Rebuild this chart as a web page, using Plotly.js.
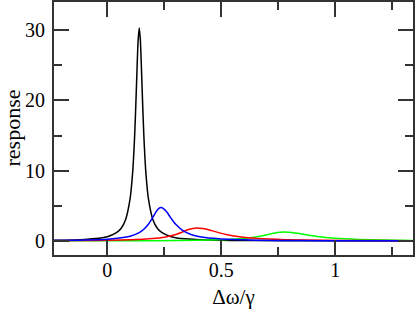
<!DOCTYPE html>
<html>
<head>
<meta charset="utf-8">
<script src="https://cdn.plot.ly/plotly-3.0.1.min.js"></script>
<style>html,body{margin:0;padding:0;background:#fff;}#chart{width:415px;height:309px;}</style>
</head>
<body>
<div id="chart"></div>
<script>
// Black curve
const blackX = [-0.234, -0.1, 0, 0.04, 0.06, 0.08, 0.1, 0.11, 0.115, 0.12, 0.125, 0.13, 0.135, 0.14, 0.145, 0.15, 0.155, 0.16, 0.165, 0.17, 0.18, 0.2, 0.22, 0.24, 0.28, 0.34, 0.44, 0.64, 0.94, 1.34];
const blackY = [0.09, 0.21, 0.61, 1.17, 1.78, 3.03, 6.06, 9.3, 11.8, 15.1, 19.4, 24.2, 28.5, 30.3, 28.5, 24.2, 19.4, 15.1, 11.8, 9.3, 6.06, 3.03, 1.78, 1.17, 0.61, 0.30, 0.134, 0.048, 0.019, 0.008];
// Blue curve
const blueX = [-0.234, -0.1, 0, 0.1, 0.14, 0.16, 0.18, 0.2, 0.215, 0.225, 0.235, 0.245, 0.26, 0.28, 0.3, 0.33, 0.37, 0.43, 0.5, 0.65, 0.85, 1.05, 1.34];
const blueY = [0.064, 0.125, 0.247, 0.676, 1.19, 1.66, 2.37, 3.38, 4.2, 4.6, 4.75, 4.64, 4.14, 3.21, 2.37, 1.51, 0.89, 0.475, 0.27, 0.114, 0.052, 0.030, 0.016];
// Red curve
const redX = [-0.234, -0.1, 0, 0.1, 0.2, 0.25, 0.3, 0.33, 0.36, 0.39, 0.42, 0.46, 0.52, 0.58, 0.66, 0.78, 0.95, 1.15, 1.34];
const redY = [0.038, 0.060, 0.093, 0.162, 0.339, 0.541, 0.925, 1.28, 1.665, 1.85, 1.757, 1.434, 0.925, 0.589, 0.348, 0.185, 0.094, 0.053, 0.034];
// Green curve
const greenX = [-0.234, 0, 0.2, 0.4, 0.5, 0.58, 0.63, 0.67, 0.71, 0.745, 0.775, 0.81, 0.86, 0.92, 1.0, 1.1, 1.22, 1.34];
const greenY = [0.015, 0.026, 0.045, 0.101, 0.177, 0.309, 0.467, 0.670, 0.949, 1.19, 1.28, 1.21, 0.952, 0.64, 0.375, 0.213, 0.123, 0.079];

const xTitle = 'Δω/γ';
const yTitle = 'response';

function tr(x, y, c) {
  return {x: x, y: y, type: 'scatter', mode: 'lines',
    line: {color: c, width: 1.5, shape: 'spline', smoothing: 0.6},
    hoverinfo: 'skip', showlegend: false};
}
const data = [
  tr(blackX, blackY, '#000000'),
  tr(greenX, greenY, '#00ff00'),
  tr(redX, redY, '#ff0000'),
  tr(blueX, blueY, '#0000ff')
];
const fontF = 'Liberation Serif, Times New Roman, serif';
const axisCommon = {
  showline: true, linecolor: '#333333', linewidth: 2, mirror: 'ticks',
  ticks: 'inside', ticklen: 15, tickwidth: 2, tickcolor: '#333333',
  showgrid: false, zeroline: false,
  tickfont: {family: fontF, size: 20, color: '#000'}
};
const layout = {
  width: 415, height: 309,
  margin: {l: 54, r: 2, t: 2, b: 54},
  paper_bgcolor: '#fff', plot_bgcolor: '#fff',
  font: {family: fontF, size: 20, color: '#000'},
  xaxis: Object.assign({}, axisCommon, {
    range: [-0.234, 1.341], tick0: 0, dtick: 0.5,
    minor: {dtick: 0.25, ticks: 'inside', ticklen: 8, tickwidth: 2, tickcolor: '#333333', showgrid: false},
    ticklabelstandoff: -4,
    title: {text: xTitle, font: {family: fontF, size: 21, color: '#000'}, standoff: 13}
  }),
  yaxis: Object.assign({}, axisCommon, {
    range: [-2, 34], tick0: 0, dtick: 10,
    minor: {dtick: 5, ticks: 'inside', ticklen: 8, tickwidth: 2, tickcolor: '#333333', showgrid: false},
    ticklabelstandoff: 3
  }),
  annotations: [{
    text: yTitle, textangle: -90, showarrow: false,
    xref: 'paper', yref: 'paper', x: 0, y: 0.5, xanchor: 'center', yanchor: 'middle',
    xshift: -42, borderpad: 0, font: {family: fontF, size: 22, color: '#000'}
  }]
};
Plotly.newPlot('chart', data, layout, {staticPlot: true, displayModeBar: false});
</script>
</body>
</html>
